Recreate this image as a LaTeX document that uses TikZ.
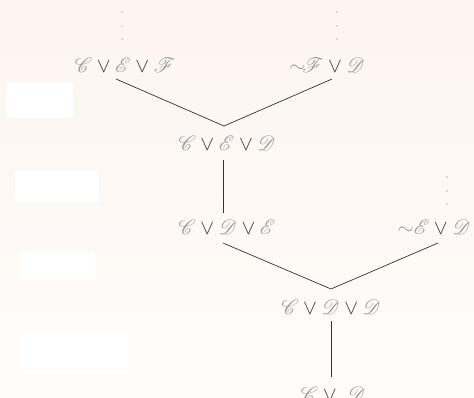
\documentclass[tikz,border=0pt]{standalone}
\usepackage{mathrsfs}
\definecolor{bgtop}{HTML}{FDF5EF}
\definecolor{bgbot}{HTML}{FEFCFA}
\definecolor{letter}{HTML}{9A9A9A}
\definecolor{opc}{HTML}{3C3C3C}
\definecolor{linec}{HTML}{333333}
\definecolor{dotc}{HTML}{7A7A7A}
\newcommand{\Ls}[1]{\textcolor{letter}{\mathscr{#1}}}
\newcommand{\Op}{\mathbin{\textcolor{opc}{\vee}}}
\newcommand{\Ng}{\textcolor{letter}{\sim}}
\begin{document}
\begin{tikzpicture}[x=1pt,y=-1pt,
  formula/.style={inner sep=0pt,font=\fontsize{20}{24}\selectfont},
  edge/.style={draw=linec,line width=0.7pt},
  dotm/.style={fill=dotc,circle,inner sep=0pt,minimum size=1.3pt}]
\useasboundingbox (0,0) rectangle (474,398);
\shade[top color=bgtop,bottom color=bgbot] (0,0) rectangle (474,398);
% white blocks
\fill[white] (6,82) rectangle (73,118);
\fill[white] (15,171) rectangle (99,202);
\fill[white] (20,252) rectangle (95,279);
\fill[white] (20,332) rectangle (128,374);
% dots
\foreach \y [count=\i] in {12,26,39}{
  \node[dotm] (dl\i) at (122,\y) {};
  \node[dotm] (dr\i) at (337,\y) {};
  \node[dotm] (de\i) at (447,\y+165) {};
}
% formulas
\node[formula] (n1) at (125,65) {$\Ls{C}\Op\Ls{E}\Op\Ls{F}$};
\node[formula] (n2) at (327,65) {$\Ng\!\Ls{F}\Op\Ls{D}$};
\node[formula] (n3) at (227,143) {$\Ls{C}\Op\Ls{E}\Op\Ls{D}$};
\node[formula] (n4) at (227,227) {$\Ls{C}\Op\Ls{D}\Op\Ls{E}$};
\node[formula] (n5) at (434,227) {$\Ng\Ls{E}\Op\Ls{D}$};
\node[formula] (n6) at (331,307) {$\Ls{C}\Op\Ls{D}\Op\Ls{D}$};
\node[formula] (n7) at (333,394) {$\Ls{C}\Op\;\Ls{D}$};
% junctions
\coordinate (j1) at (224,126);
\coordinate (j2) at (331,289);
\draw[edge] (116,79) -- (j1) -- (332,79);
\draw[edge] (223,160) -- (223,213);
\draw[edge] (223,243) -- (j2) -- (438,243);
\draw[edge] (331,321) -- (331,377);
\end{tikzpicture}
\end{document}
